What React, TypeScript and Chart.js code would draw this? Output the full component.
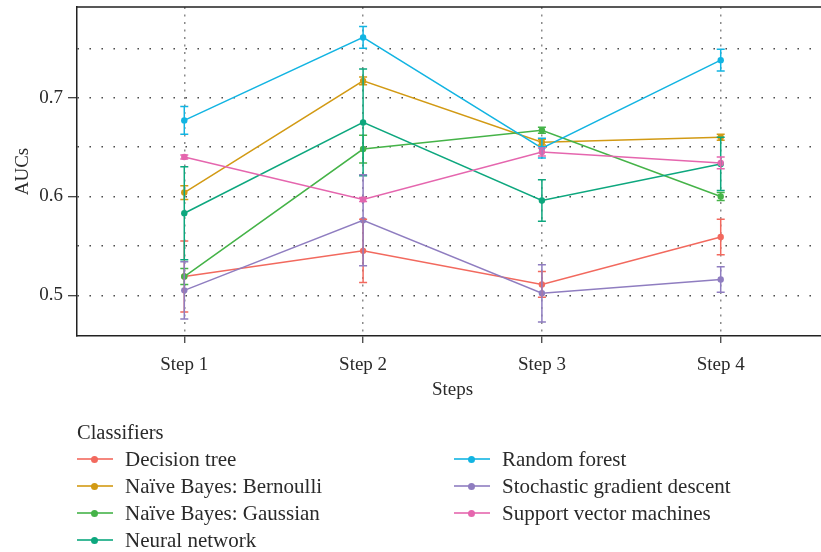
import React, { useEffect, useRef } from "react";
import { Chart, registerables } from "chart.js";
Chart.register(...registerables);

const steps = ["Step 1", "Step 2", "Step 3", "Step 4"];
const classifiers = [
  "Decision tree",
  "Naïve Bayes: Bernoulli",
  "Naïve Bayes: Gaussian",
  "Neural network",
  "Random forest",
  "Stochastic gradient descent",
  "Support vector machines",
];
const colors = ["#F2695E", "#D29A14", "#45B348", "#0DA77E", "#12B4E2", "#8F7DC0", "#E566AE"];

const decisionTree = [0.519, 0.545, 0.511, 0.559];
const decisionTreeErr = [0.036, 0.032, 0.013, 0.018];
const nbBernoulli = [0.604, 0.717, 0.655, 0.66];
const nbBernoulliErr = [0.007, 0.004, 0.003, 0.003];
const nbGaussian = [0.519, 0.648, 0.667, 0.6];
const nbGaussianErr = [0.008, 0.014, 0.003, 0.004];
const neuralNetwork = [0.583, 0.675, 0.596, 0.633];
const neuralNetworkErr = [0.047, 0.054, 0.021, 0.027];
const randomForest = [0.677, 0.761, 0.649, 0.738];
const randomForestErr = [0.014, 0.011, 0.01, 0.011];
const sgd = [0.505, 0.576, 0.502, 0.516];
const sgdErr = [0.029, 0.046, 0.029, 0.013];
const svm = [0.64, 0.597, 0.645, 0.634];
const svmErr = [0.002, 0.002, 0.004, 0.006];

const seriesValues = [decisionTree, nbBernoulli, nbGaussian, neuralNetwork, randomForest, sgd, svm];
const seriesErrors = [decisionTreeErr, nbBernoulliErr, nbGaussianErr, neuralNetworkErr, randomForestErr, sgdErr, svmErr];

const yMajorTicks = [0.5, 0.6, 0.7];
const yGridTicks = [0.5, 0.55, 0.6, 0.65, 0.7, 0.75];

const FONT = "'Liberation Serif', 'DejaVu Serif', serif";
const TEXT = "#2a2a2a";
const CANVAS_W = 832;

const errorBarPlugin = {
  id: "errorBars",
  afterDatasetsDraw(chart: any) {
    const ctx = chart.ctx;
    const ys = chart.scales.y;
    chart.data.datasets.forEach((ds: any, i: number) => {
      const meta = chart.getDatasetMeta(i);
      const errs = seriesErrors[i];
      ctx.save();
      ctx.strokeStyle = ds.borderColor;
      ctx.lineWidth = 1.5;
      meta.data.forEach((pt: any, j: number) => {
        const v = seriesValues[i][j];
        const e = errs[j];
        const yt = ys.getPixelForValue(v + e);
        const yb = ys.getPixelForValue(v - e);
        const x = pt.x;
        ctx.beginPath();
        ctx.moveTo(x, yt);
        ctx.lineTo(x, yb);
        ctx.moveTo(x - 4, yt);
        ctx.lineTo(x + 4, yt);
        ctx.moveTo(x - 4, yb);
        ctx.lineTo(x + 4, yb);
        ctx.stroke();
      });
      ctx.restore();
    });
  },
};

const frameBorderPlugin = {
  id: "frameBorder",
  afterDraw(chart: any) {
    const { ctx, chartArea } = chart;
    ctx.save();
    ctx.strokeStyle = "#222";
    ctx.lineWidth = 1.5;
    ctx.beginPath();
    ctx.moveTo(chartArea.left, chartArea.top);
    ctx.lineTo(chartArea.right, chartArea.top);
    ctx.lineTo(chartArea.right, chartArea.bottom);
    ctx.stroke();
    ctx.restore();
  },
};

function LegendItem({ label, color, left, top }: { label: string; color: string; left: number; top: number }) {
  return (
    <div style={{ position: "absolute", left, top: top - 13, height: 26, display: "flex", alignItems: "center" }}>
      <div style={{ position: "relative", width: 36, height: 26 }}>
        <div style={{ position: "absolute", left: 0, top: 12, width: 36, height: 2, background: color, opacity: 0.8 }} />
        <div style={{ position: "absolute", left: 14, top: 9.5, width: 7, height: 7, borderRadius: 4, background: color }} />
      </div>
      <span style={{ marginLeft: 12, fontFamily: FONT, fontSize: 21, color: TEXT, whiteSpace: "nowrap", lineHeight: "26px" }}>{label}</span>
    </div>
  );
}

export default function App() {
  const ref = useRef<HTMLCanvasElement>(null);
  useEffect(() => {
    document.body.style.margin = "0";
    const chart = new Chart(ref.current!, {
      type: "line",
      data: {
        datasets: classifiers.map((name, i) => ({
          label: name,
          data: seriesValues[i].map((v, j) => ({ x: j + 1, y: v })),
          borderColor: colors[i],
          backgroundColor: colors[i],
          borderWidth: 1.5,
          pointRadius: 3.2,
          pointBorderWidth: 0,
          pointBackgroundColor: colors[i],
          tension: 0,
          order: classifiers.length - i,
        })),
      },
      options: {
        animation: false,
        responsive: false,
        layout: { padding: { top: 7, left: 0, right: 0, bottom: 151 } },
        plugins: { legend: { display: false }, tooltip: { enabled: false } },
        scales: {
          x: {
            type: "linear",
            min: 0.4,
            max: 4.6,
            afterBuildTicks: (scale: any) => {
              scale.ticks = steps.map((_, i) => ({ value: i + 1 }));
            },
            afterFit: (scale: any) => {
              scale.height = 65;
              scale.paddingLeft = 0;
              scale.paddingRight = 0;
            },
            ticks: {
              callback: (v: any) => steps[Number(v) - 1] ?? "",
              font: { family: FONT, size: 19 },
              color: TEXT,
              padding: 11,
              maxRotation: 0,
              autoSkip: false,
            },
            grid: {
              color: "#8a8a8a",
              lineWidth: 1.5,
              drawTicks: true,
              tickLength: 7,
              tickColor: "#333",
              tickWidth: 1.2,
              tickBorderDash: [],
            },
            border: { display: true, color: "#222", width: 1.5, dash: [2, 5.5] },
            title: {
              display: true,
              text: "Steps",
              font: { family: FONT, size: 19 },
              color: TEXT,
              padding: { top: 0, bottom: 0 },
            },
          },
          y: {
            type: "linear",
            min: 0.4588,
            max: 0.7918,
            afterBuildTicks: (scale: any) => {
              scale.ticks = yGridTicks.map((v) => ({ value: v }));
            },
            afterFit: (scale: any) => {
              scale.width = 77;
              scale.paddingTop = 0;
              scale.paddingBottom = 0;
            },
            ticks: {
              callback: (v: any) => (yMajorTicks.some((m) => Math.abs(m - Number(v)) < 1e-6) ? Number(v).toFixed(1) : ""),
              font: { family: FONT, size: 19 },
              color: TEXT,
              padding: 5,
            },
            grid: {
              color: "#3a3a3a",
              lineWidth: 1.4,
              drawTicks: true,
              tickLength: 9,
              tickColor: (ctx: any) =>
                yMajorTicks.some((m) => Math.abs(m - ctx.tick.value) < 1e-6) ? "#333" : "rgba(0,0,0,0)",
              tickWidth: 1.2,
              tickBorderDash: [],
            },
            border: { display: true, color: "#222", width: 1.5, dash: [1.4, 10.6] },
            title: {
              display: true,
              text: "AUCs",
              font: { family: FONT, size: 19 },
              color: TEXT,
              padding: { top: 12, bottom: 0 },
            },
          },
        },
      },
      plugins: [errorBarPlugin, frameBorderPlugin],
    } as any);
    return () => chart.destroy();
  }, []);

  const col1 = classifiers.slice(0, 4);
  const col2 = classifiers.slice(4);
  const rowYs = [459, 486, 513, 540];

  return (
    <div style={{ position: "relative", width: 821, height: 552, overflow: "hidden" }}>
      <canvas ref={ref} width={CANVAS_W} height={552} style={{ display: "block" }} />
      <div style={{ position: "absolute", left: 77, top: 419, fontFamily: FONT, fontSize: 20.5, color: TEXT, lineHeight: "26px" }}>
        Classifiers
      </div>
      {col1.map((c, i) => (
        <LegendItem key={c} label={c} color={colors[i]} left={77} top={rowYs[i]} />
      ))}
      {col2.map((c, i) => (
        <LegendItem key={c} label={c} color={colors[i + 4]} left={454} top={rowYs[i]} />
      ))}
    </div>
  );
}
